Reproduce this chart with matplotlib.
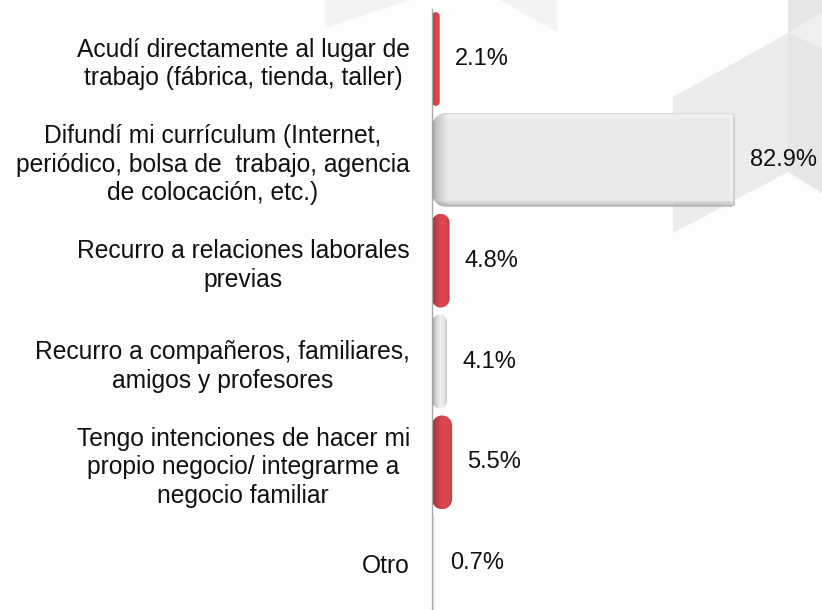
import numpy as np
import matplotlib
matplotlib.use('Agg')
import matplotlib.pyplot as plt
from matplotlib.path import Path
from matplotlib.patches import PathPatch, Polygon
from matplotlib.colors import to_rgb

plt.rcParams['font.family'] = ['Liberation Sans', 'DejaVu Sans']

# datos de la gráfica
categorias = [
    "Acudí directamente al lugar de\ntrabajo (fábrica, tienda, taller)",
    "Difundí mi currículum (Internet,\nperiódico, bolsa de  trabajo, agencia\nde colocación, etc.)",
    "Recurro a relaciones laborales\nprevias",
    "Recurro a compañeros, familiares,\namigos y profesores",
    "Tengo intenciones de hacer mi\npropio negocio/ integrarme a\nnegocio familiar",
    "Otro",
]
porcentajes = [2.1, 82.9, 4.8, 4.1, 5.5, 0.7]
tonos = ['rojo', 'blanco', 'rojo', 'blanco', 'rojo', 'blanco']

base_color = {'rojo': '#e04850', 'blanco': '#efefef'}

W_FIG, H_FIG = 822, 610
fig = plt.figure(figsize=(W_FIG / 100, H_FIG / 100), dpi=100, facecolor='#fdfdfd')

# marca de agua de fondo (cubos tenues), debajo de los ejes
formas = [
    ([(325, 0), (410, 0), (325, 28)], '#f3f3f3'),
    ([(500, 0), (557, 0), (557, 32)], '#f3f3f3'),
    ([(673, 97), (788, 33), (788, 172), (673, 233)], '#ebebeb'),
    ([(788, 0), (822, 0), (822, 193), (788, 172)], '#e6e6e6'),
    ([(788, 33), (822, 12), (822, 48)], '#efefef'),
]
for vert, c in formas:
    xy = [(x / W_FIG, 1 - y / H_FIG) for x, y in vert]
    fig.add_artist(Polygon(xy, closed=True, transform=fig.transFigure,
                           facecolor=c, edgecolor='none', zorder=-1))

ax = fig.add_axes([432 / W_FIG, -3.6 / H_FIG, 390 / W_FIG, 605 / H_FIG])
ax.set_facecolor('none')

n = len(categorias)
pos_y = np.arange(n)[::-1]
ax.set_xlim(0, 390 / 3.655)
ax.set_ylim(-0.5, n - 0.5)
ax.set_autoscale_on(False)


def contorno(x0, y0, x1, y1, rl, rr, k=16):
    # rectángulo con esquinas redondeadas (radio izquierdo y derecho distintos), en pixeles
    w = x1 - x0
    rl = min(rl, w / 2)
    rr = min(rr, w / 2)
    pts = []
    for a in np.linspace(np.pi, 1.5 * np.pi, k):
        pts.append((x0 + rl + rl * np.cos(a), y0 + rl + rl * np.sin(a)))
    for a in np.linspace(1.5 * np.pi, 2 * np.pi, k):
        pts.append((x1 - rr + rr * np.cos(a), y0 + rr + rr * np.sin(a)))
    for a in np.linspace(0, 0.5 * np.pi, k):
        pts.append((x1 - rr + rr * np.cos(a), y1 - rr + rr * np.sin(a)))
    for a in np.linspace(0.5 * np.pi, np.pi, k):
        pts.append((x0 + rl + rl * np.cos(a), y1 - rl + rl * np.sin(a)))
    pts.append(pts[0])
    return np.array(pts)


def textura(W, H, color):
    # sombreado tipo cilindro (barras angostas) o placa (barras anchas)
    base = np.array(to_rgb(color))
    u = np.arange(W) + 0.5
    v = np.arange(H) + 0.5
    if W < 40:
        t = u / W
        fh = np.interp(t, [0, 0.2, 0.55, 0.85, 1], [0.62, 0.85, 1.0, 0.95, 0.8])
        fv = np.ones(H)
        a = 1.0
    else:
        base = base * 0.975
        fh = np.interp(u, [0, 4, 16, W - 6, W - 3, W], [0.6, 0.82, 1.0, 1.0, 1.04, 0.82])
        fv = np.interp(v, [0, 1.5, 3, 7, H - 7, H - 3, H], [0.9, 1.0, 1.04, 1.0, 1.0, 0.85, 0.72])
        a = 0.93
    f = fv[:, None] * fh[None, :]
    img = np.clip(base[None, None, :] * f[:, :, None], 0, 1)
    alpha = np.full((H, W, 1), a)
    return np.concatenate([img, alpha], axis=2)


barras = ax.barh(pos_y, porcentajes, height=0.93, color='none', edgecolor='none')
inv = ax.transData.inverted()
for rect, tono in zip(barras, tonos):
    x0, y0 = rect.get_x(), rect.get_y()
    w, h = rect.get_width(), rect.get_height()
    (px0, py0), (px1, py1) = ax.transData.transform([(x0, y0), (x0 + w, y0 + h)])
    pw, ph = px1 - px0, py1 - py0
    rl = 14 if pw > 40 else pw / 2
    rr = 4 if pw > 40 else pw / 2
    pts = inv.transform(contorno(px0, py0, px1, py1, rl, rr))
    clip = PathPatch(Path(pts), transform=ax.transData, facecolor='none', edgecolor='none')
    img = textura(max(int(round(pw)), 2), int(round(ph)), base_color[tono])
    im = ax.imshow(img, extent=(x0, x0 + w, y0, y0 + h), origin='upper',
                   aspect='auto', interpolation='bilinear', zorder=2)
    im.set_clip_path(clip)

for y, v in zip(pos_y, porcentajes):
    ax.annotate(f"{v:.1f}%", (v, y), xytext=(11, 0), textcoords='offset points',
                ha='left', va='center', fontsize=17, color='#111111')

ax.set_yticks(pos_y)
ax.set_yticklabels(categorias, fontsize=17.7, color='#111111')
for lab in ax.get_yticklabels():
    lab.set_multialignment('center')
    lab.set_linespacing(1.24)
ax.tick_params(axis='y', length=0, pad=16)
ax.set_xticks([])
for lado in ['top', 'right', 'bottom']:
    ax.spines[lado].set_visible(False)
ax.spines['left'].set_color('#a8a8a8')
ax.spines['left'].set_linewidth(1.0)

fig.savefig('out.png', dpi=100, facecolor=fig.get_facecolor())
